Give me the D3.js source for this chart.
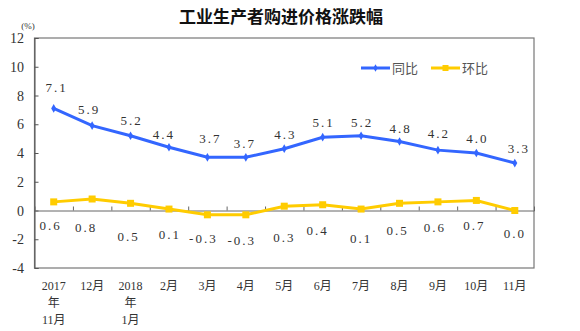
<!DOCTYPE html>
<html><head><meta charset="utf-8">
<script src="https://cdn.jsdelivr.net/npm/d3@7"></script>
<style>body{margin:0;background:#fff}svg{display:block}</style>
</head><body><svg id="c" width="580" height="331"></svg>
<script>
const categories = ["2017\n年\n11月","12月","2018\n年\n1月","2月","3月","4月","5月","6月","7月","8月","9月","10月","11月"];
const yoy = [7.1,5.9,5.2,4.4,3.7,3.7,4.3,5.1,5.2,4.8,4.2,4.0,3.3];
const mom = [0.6,0.8,0.5,0.1,-0.3,-0.3,0.3,0.4,0.1,0.5,0.6,0.7,0.0];
const yTicks = [-4,-2,0,2,4,6,8,10,12];
const seriesNames = ["同比","环比"];
// label placement offsets (style only)
const yoyDy = [-20,-16,-15,-12,-18,-13,-14,-14,-13,-13,-16,-14,-14];
const yoyDx = [2,-4,0,-6,2,-2,0,0,0,0,0,0,3];
const momDy = [15,17,26,24,28,30,27,20,28,20,17,15,23];
const momDx = [-4,-7,-3,0,-5,-5,-1,-6,-1,-3,-4,-3,-1];

const svg = d3.select("#c");
const L=34.5, R=534, T=38, B=268;
const x = d3.scaleBand().domain(categories).range([L,R]).padding(0);
const cx = c => x(c)+x.bandwidth()/2;
const y = d3.scaleLinear().domain([-4,12]).range([B,T]);
const blue="#3366ff", yellow="#ffcc00";
const numFont = "'Liberation Serif','DejaVu Serif',serif";
const cjk = "'Liberation Serif','Noto Sans CJK SC',serif";

// title
svg.append("text").attr("x",281).attr("y",23).attr("text-anchor","middle")
  .style("font-family","'Noto Sans CJK SC',sans-serif").style("font-size","17px").style("font-weight","bold")
  .attr("fill","#111").text("工业生产者购进价格涨跌幅");
svg.append("text").attr("x",28).attr("y",29).attr("text-anchor","middle")
  .style("font-family",cjk).style("font-size","9px").attr("fill","#333").text("(%)");

// frame
svg.append("rect").attr("x",L).attr("y",T).attr("width",R-L).attr("height",B-T)
  .attr("fill","none").attr("stroke","#777").attr("stroke-width",1.2);

// y axis
const ya = svg.append("g").attr("transform",`translate(${L},0)`)
  .call(d3.axisRight(y).tickValues(yTicks).tickSize(4).tickFormat(""));
ya.select(".domain").attr("stroke","#555");
ya.selectAll("line").attr("stroke","#555");
svg.append("g").selectAll("text").data(yTicks).join("text")
  .attr("x",24).attr("y",d=>y(d)+5).attr("text-anchor","end")
  .style("font-family",numFont).style("font-size","14px").attr("fill","#333")
  .text(d=>d);

// zero axis with ticks at band boundaries
const xa = svg.append("g").attr("transform",`translate(0,${y(0)})`)
  .call(d3.axisTop(d3.scaleLinear().domain([0,13]).range([L,R])).tickValues(d3.range(1,13)).tickSize(4).tickFormat(""));
xa.select(".domain").attr("stroke","#666");
xa.selectAll("line").attr("stroke","#666");

// x labels
const xl = svg.append("g").selectAll("text").data(categories).join("text")
  .attr("text-anchor","middle").style("font-family",cjk).style("font-size","12px").attr("fill","#333");
xl.each(function(d){
  const lines=d.split("\n");
  d3.select(this).selectAll("tspan").data(lines).join("tspan")
    .attr("x",cx(d)).attr("y",(l,i)=>290+i*17).text(l=>l);
});

// lines
const line = d3.line().x((d,i)=>cx(categories[i])).y(d=>y(d));
svg.append("path").datum(mom).attr("d",line).attr("fill","none").attr("stroke",yellow).attr("stroke-width",3);
svg.append("path").datum(yoy).attr("d",line).attr("fill","none").attr("stroke",blue).attr("stroke-width",3);
svg.append("g").selectAll("rect").data(mom).join("rect")
  .attr("x",(d,i)=>cx(categories[i])-3.5).attr("y",d=>y(d)-3.5).attr("width",7).attr("height",7).attr("fill",yellow);
svg.append("g").selectAll("path").data(yoy).join("path")
  .attr("d",d3.symbol(d3.symbolDiamond,22)).attr("transform",(d,i)=>`translate(${cx(categories[i])},${y(d)})`).attr("fill",blue);

// value labels
svg.append("g").selectAll("text").data(yoy).join("text")
  .attr("x",(d,i)=>cx(categories[i])+yoyDx[i]+1).attr("y",(d,i)=>y(d)+yoyDy[i]+4)
  .attr("text-anchor","middle").style("font-family",numFont).style("font-size","13px").style("letter-spacing","2px")
  .attr("fill","#333").text(d=>d.toFixed(1));
svg.append("g").selectAll("text").data(mom).join("text")
  .attr("x",(d,i)=>cx(categories[i])+momDx[i]+1).attr("y",(d,i)=>y(0)+momDy[i]+4)
  .attr("text-anchor","middle").style("font-family",numFont).style("font-size","13px").style("letter-spacing","2px")
  .attr("fill","#333").text(d=>d.toFixed(1));

// legend
const lg = [{n:seriesNames[0],c:blue,x:361,sym:"d"},{n:seriesNames[1],c:yellow,x:431,sym:"s"}];
lg.forEach(o=>{
  svg.append("line").attr("x1",o.x).attr("x2",o.x+29).attr("y1",68).attr("y2",68).attr("stroke",o.c).attr("stroke-width",3);
  if(o.sym==="s") svg.append("rect").attr("x",o.x+11.5).attr("y",65).attr("width",6).attr("height",6).attr("fill",o.c);
  else svg.append("path").attr("d",d3.symbol(d3.symbolDiamond,16)).attr("transform",`translate(${o.x+14.5},68)`).attr("fill",o.c);
  svg.append("text").attr("x",o.x+31).attr("y",73).style("font-family","'Noto Sans CJK SC',sans-serif").style("font-size","13px")
    .attr("fill","#555").text(o.n);
});
</script></body></html>
